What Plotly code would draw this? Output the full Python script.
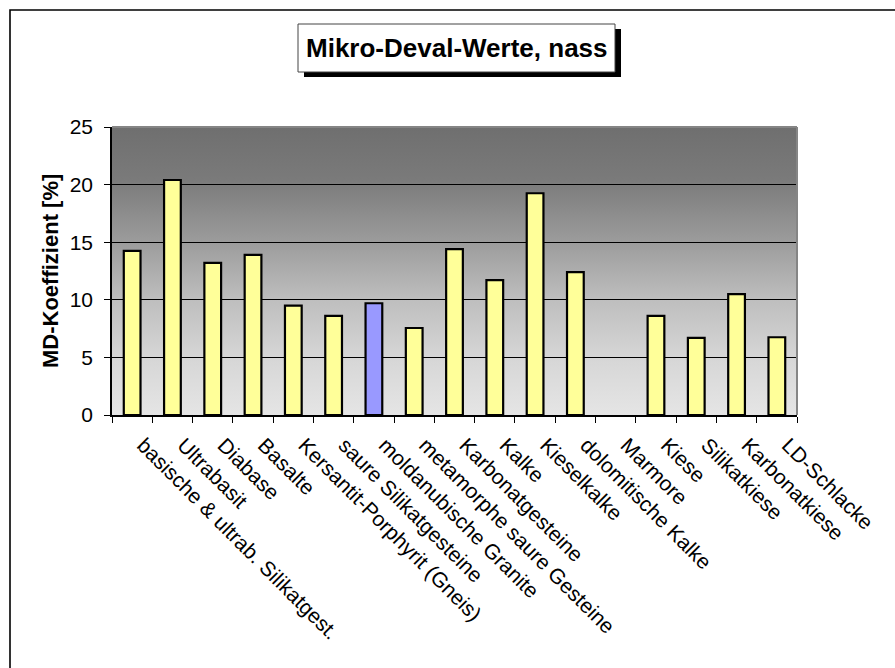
import base64
import plotly.graph_objects as go

# Mikro-Deval coefficient (wet) per rock group
categories = [
    "basische & ultrab. Silikatgest.",
    "Ultrabasit",
    "Diabase",
    "Basalte",
    "Kersantit-Porphyrit (Gneis)",
    "saure Silikatgesteine",
    "moldanubische Granite",
    "metamorphe saure Gesteine",
    "Karbonatgesteine",
    "Kalke",
    "Kieselkalke",
    "dolomitische Kalke",
    "Marmore",
    "Kiese",
    "Silikatkiese",
    "Karbonatkiese",
    "LD-Schlacke",
]
md_values = [14.25, 20.4, 13.2, 13.9, 9.5, 8.6, 9.7, 7.55, 14.4,
             11.7, 19.25, 12.4, None, 8.6, 6.7, 10.5, 6.75]
highlight = "moldanubische Granite"

y_ticks = [0, 5, 10, 15, 20, 25]

FONT = "Liberation Sans, Arial, sans-serif"
W, H = 895, 668
L, R, T, B = 112, 98, 127, 253
PW, PH = W - L - R, H - T - B


def px_x(p):
    return (p - L) / PW


def px_y(p):
    return (H - B - p) / PH


bar_colors = ["#9999FF" if c == highlight else "#FFFF99" for c in categories]

fig = go.Figure(
    go.Bar(
        x=categories,
        y=md_values,
        marker=dict(color=bar_colors, line=dict(color="black", width=2.2)),
        hoverinfo="x+y",
    )
)

# grey vertical gradient for the plot area
svg = (
    "<svg xmlns='http://www.w3.org/2000/svg' width='10' height='100' "
    "viewBox='0 0 10 100' preserveAspectRatio='none'>"
    "<defs><linearGradient id='g' x1='0' y1='0' x2='0' y2='1'>"
    "<stop offset='0' stop-color='#6f6f6f'/>"
    "<stop offset='0.18' stop-color='#7a7a7a'/>"
    "<stop offset='0.4' stop-color='#9c9c9c'/>"
    "<stop offset='0.6' stop-color='#bebebe'/>"
    "<stop offset='0.8' stop-color='#d6d6d6'/>"
    "<stop offset='1' stop-color='#e5e5e5'/>"
    "</linearGradient></defs>"
    "<rect width='10' height='100' fill='url(#g)'/></svg>"
)
src = "data:image/svg+xml;base64," + base64.b64encode(svg.encode()).decode()
fig.add_layout_image(
    source=src, xref="paper", yref="paper", x=0, y=1, sizex=1, sizey=1,
    xanchor="left", yanchor="top", sizing="stretch", layer="below",
)

shapes = [
    # outer chart frame
    dict(type="rect", xref="paper", yref="paper",
         x0=px_x(10), y0=px_y(10), x1=px_x(W + 20), y1=px_y(H + 20),
         line=dict(color="black", width=1.6), fillcolor="rgba(0,0,0,0)",
         layer="below"),
    # title box shadow and box
    dict(type="rect", xref="paper", yref="paper",
         x0=px_x(304), y0=px_y(29), x1=px_x(621), y1=px_y(77),
         line=dict(width=0), fillcolor="black", layer="below"),
    dict(type="rect", xref="paper", yref="paper",
         x0=px_x(298), y0=px_y(24), x1=px_x(615), y1=px_y(72),
         line=dict(color="#444444", width=1), fillcolor="white", layer="below"),
    # grey plot-area border on top and right
    dict(type="line", xref="paper", yref="paper", x0=0, x1=1, y0=1, y1=1,
         line=dict(color="#858585", width=2), layer="above"),
    dict(type="line", xref="paper", yref="paper", x0=1, x1=1, y0=0, y1=1,
         line=dict(color="#858585", width=2), layer="above"),
]

annotations = [
    dict(text="<b>Mikro-Deval-Werte, nass</b>", xref="paper", yref="paper",
         x=px_x(457), y=px_y(48), xanchor="center", yanchor="middle",
         showarrow=False, font=dict(family=FONT, size=26, color="black")),
    dict(text="<b>MD-Koeffizient [%]</b>", xref="paper", yref="paper",
         x=px_x(50), y=0.5, xanchor="center", yanchor="middle", textangle=-90,
         showarrow=False, font=dict(family=FONT, size=22, color="black")),
]

fig.update_layout(
    width=W, height=H,
    margin=dict(l=L, r=R, t=T, b=B, autoexpand=False),
    paper_bgcolor="white",
    plot_bgcolor="rgba(0,0,0,0)",
    showlegend=False,
    bargap=0.585,
    font=dict(family=FONT, color="black"),
    shapes=shapes,
    annotations=annotations,
    xaxis=dict(
        type="category", categoryorder="array", categoryarray=categories,
        showline=True, linecolor="black", linewidth=1.5,
        ticks="outside", tickson="boundaries", ticklen=6, tickcolor="black",
        tickwidth=1.2, tickangle=45, tickfont=dict(family=FONT, size=21),
        ticklabelstandoff=8, ticklabelshift=11,
        showgrid=False, zeroline=False, automargin=False,
    ),
    yaxis=dict(
        range=[0, 25], tickvals=y_ticks, ticktext=[str(v) for v in y_ticks],
        showline=True, linecolor="black", linewidth=1.5,
        ticks="outside", ticklen=6, tickcolor="black", tickwidth=1.2,
        tickfont=dict(family=FONT, size=21), ticklabelstandoff=7,
        showgrid=True, gridcolor="black", gridwidth=1, zeroline=False,
        automargin=False,
    ),
)

fig.write_html("out.html")
